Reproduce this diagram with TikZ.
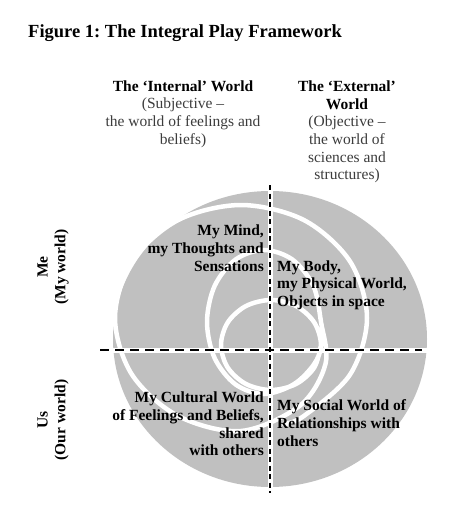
\documentclass[tikz,border=0pt]{standalone}
\usepackage{fontspec}
\setmainfont{Liberation Serif}
\usepackage{xcolor}
\usepackage{tikz}
\usetikzlibrary{calc}
\definecolor{diskgray}{RGB}{192,192,192}
\definecolor{subgray}{RGB}{60,60,60}
\frenchspacing

\begin{document}
\begin{tikzpicture}[x=1pt, y=-1pt,
		txt/.style={font=\fontsize{15.5}{17.7}\selectfont\bfseries, inner sep=0pt},
		sub/.style={font=\fontsize{15.5}{17.7}\selectfont, text=subgray, inner sep=0pt},
		gap/.style={white, line width=5pt},
		cut/.style={black, line width=1.6pt}]
			\useasboundingbox (0,0) rectangle (448,514);
			\node[txt, anchor=west] (title) at (28,33) {\fontsize{18.5}{22}\selectfont Figure 1: The Integral Play Framework};
			% headers
			\node[sub, align=center] (internal) at (183,114) {\textcolor{black}{\bfseries The ‘Internal’ World}\\(Subjective –\\the world of feelings and\\beliefs)};
			\node[sub, align=center] (external) at (347,132) {\textcolor{black}{\bfseries The ‘External’}\\\textcolor{black}{\bfseries World}\\(Objective –\\the world of\\sciences and\\structures)};
			\node[txt, rotate=90, align=center] (me) at (53,267) {Me\\(My world)};
			\node[txt, rotate=90, align=center] (us) at (53,420) {Us\\(Our world)};
			% disk and spiral
			\fill[diskgray] (270,339) ellipse [x radius=157pt, y radius=148pt];
			\draw[white, line width=4.5pt, line cap=round] plot[smooth, tension=0.55] coordinates {
				(321,345) (314.3,367.5) (296,384) (271,390) (246,384) (227.7,367.5) (221,345) (227.7,322.5)
				(246,306) (271,300) (296,306) (314.3,322.5) (321,345) (314,364.3) (293.7,384.3) (264,394)
				(235.5,384.4) (214.6,358) (207,322) (214.6,286) (235.5,259.6) (264,250) (292.5,259.6) (313.4,286)
				(321,322) (325.6,363.5) (300.2,405.4) (241,431) (178,415.9) (131.9,374.5) (115,318) (131.9,261.5)
				(178,220.1) (241,205) (304,220.1) (350.1,261.5) (367,318) (350.1,374.5) (304,415.9) (284,424)};
			% the cross
			\coordinate (vtop) at (270,185);
			\coordinate (vbot) at (270,493);
			\coordinate (hleft) at (100,350);
			\coordinate (hright) at (422,350);
			\draw[gap] (vtop) -- (vbot);
			\draw[gap] (hleft) -- (430,350);
			\draw[cut, dash pattern=on 5pt off 3.5pt] (vtop) -- (vbot);
			\draw[cut, dash pattern=on 9pt off 6pt] (hleft) -- (hright);
			% quadrants
			\node[txt, anchor=east, align=right] (mind) at (264,248) {My Mind,\\my Thoughts and\\Sensations};
			\node[txt, anchor=west, align=left] (body) at (277,285) {My Body,\\my Physical World,\\Objects in space};
			\node[txt, anchor=east, align=right] (culture) at (264,424) {My Cultural World\\of Feelings and Beliefs,\\shared\\with others};
			\node[txt, anchor=west, align=left] (social) at (277,423) {My Social World of\\Relationships with\\others};
		\end{tikzpicture}
\end{document}
